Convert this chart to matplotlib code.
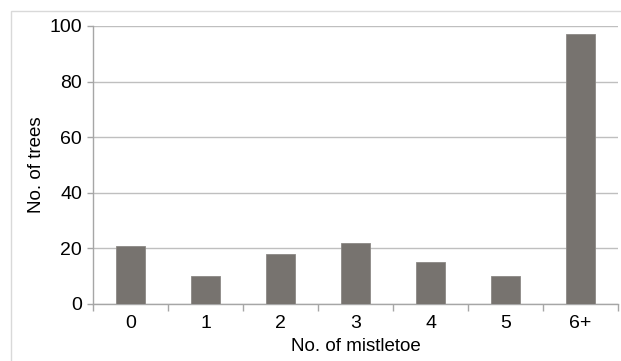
import matplotlib
matplotlib.use("Agg")
import matplotlib.pyplot as plt
import matplotlib.patches as mpatches
import numpy as np

# ── Data ──────────────────────────────────────────────────────────────────────

categories = ["0", "1", "2", "3", "4", "5", "6+"]
trees      = [21, 10, 18, 22, 15, 10, 97]

BAR   = "#77736F"
GRID  = "#BFBFBF"
AXIS  = "#A6A6A6"

plt.rcParams.update({
    "font.family": ["Liberation Sans", "DejaVu Sans"],
    "font.size":   14,
})

fig = plt.figure(figsize=(6.21, 3.61), dpi=100)
W, H = 621, 361

# outer chart frame
fig.patches.append(mpatches.Rectangle((11 / W, -0.1), 1.2, (H - 11) / H + 0.1,
                                      transform=fig.transFigure, fill=False,
                                      edgecolor="#D9D9D9", linewidth=1.0))

ax = fig.add_axes([93 / W, (H - 304) / H, (618 - 93) / W, (304 - 26) / H])

x = np.arange(len(categories))
ax.bar(x, trees, width=0.39, color=BAR, edgecolor="#8C8985", linewidth=0.6, zorder=3)

ax.set_xlim(-0.5, len(categories) - 0.5)
ax.set_ylim(0, 100)
ax.set_yticks(range(0, 101, 20))
ax.yaxis.grid(True, color=GRID, linewidth=1.0, zorder=0)
ax.set_axisbelow(True)

ax.set_xticks(x)
ax.set_xticklabels(categories)
ax.set_xticks(np.arange(-0.5, len(categories)), minor=True)
ax.tick_params(axis="x", which="major", length=0, pad=8)
ax.tick_params(axis="x", which="minor", length=5, color=AXIS, width=1.0)
ax.tick_params(axis="y", length=4, color=AXIS, width=1.0, pad=4)

for side in ("top", "right"):
    ax.spines[side].set_visible(False)
for side in ("left", "bottom"):
    ax.spines[side].set_color(AXIS)
    ax.spines[side].set_linewidth(1.0)

ax.set_xlabel("No. of mistletoe", fontsize=13.5, labelpad=4)
ax.set_ylabel("No. of trees", fontsize=13.5, labelpad=3)

fig.savefig("out.png", dpi=100)
